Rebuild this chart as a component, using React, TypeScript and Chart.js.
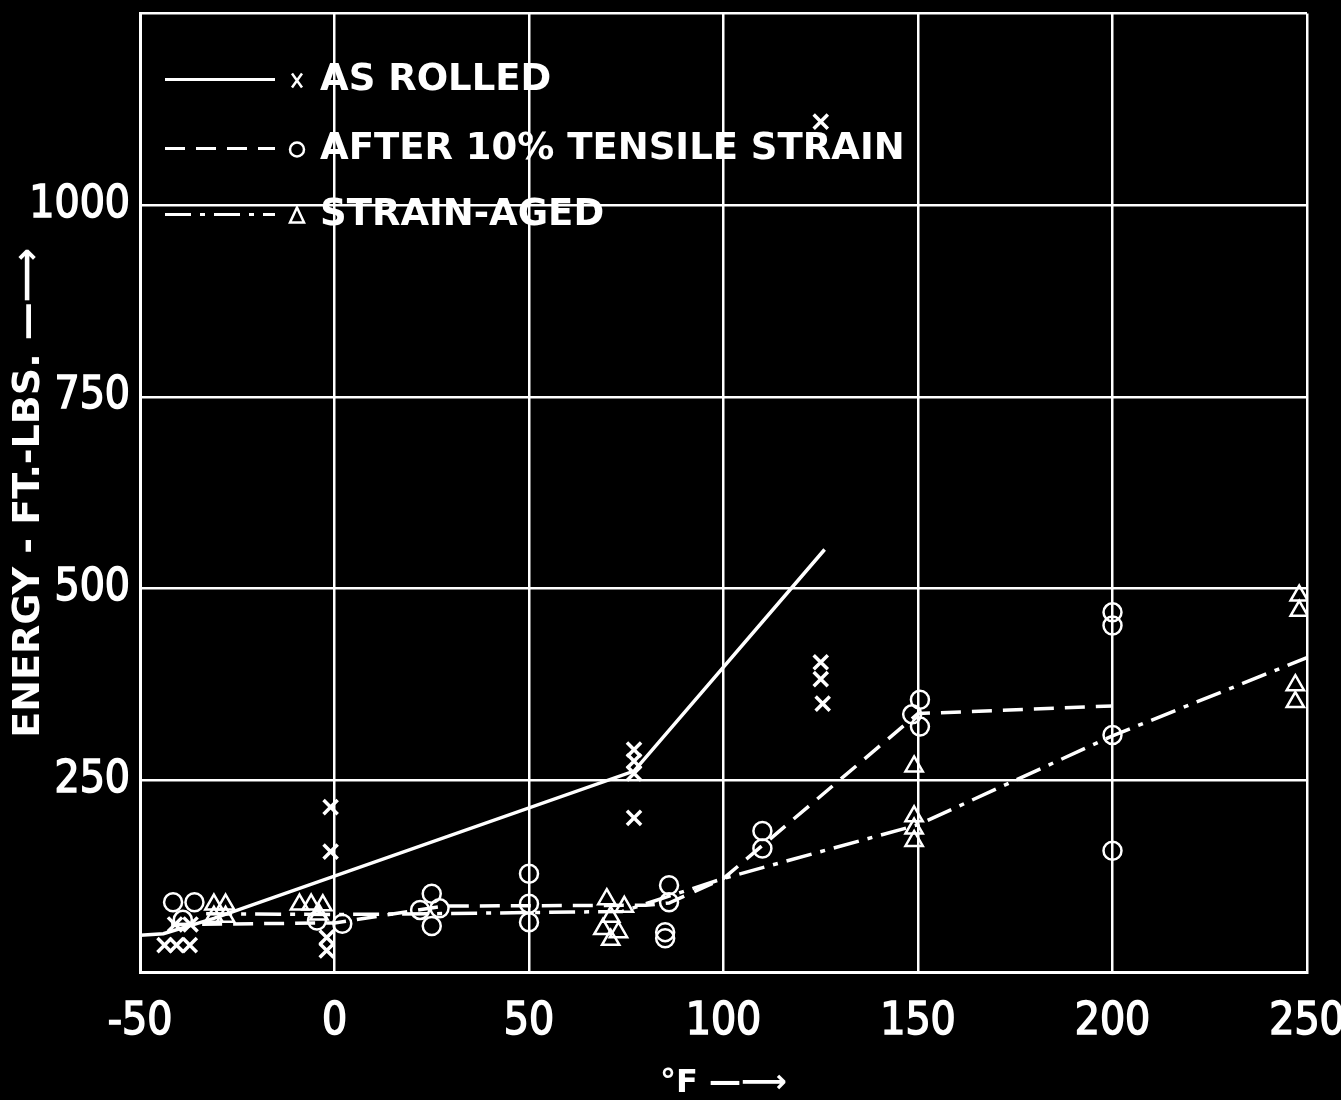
import React, { useEffect, useRef } from "react";
import { Chart, registerables } from "chart.js";

Chart.register(...registerables);

// ---- axis text ----
const X_TITLE = "°F —⟶";
const Y_TITLE = "ENERGY - FT.-LBS. —⟶";
const X_MIN = -50;
const X_MAX = 250;
const X_STEP = 50;
const Y_MIN = 0;
const Y_MAX = 1250;
const Y_STEP = 250;
const Y_TICK_LABELS = [250, 500, 750, 1000];

// ---- legend ----
const SERIES_NAMES = ["AS ROLLED", "AFTER 10% TENSILE STRAIN", "STRAIN-AGED"];

// ---- AS ROLLED (x, solid line) ----
const ROLLED_LINE_X = [-50, -44, -31, 77, 126];
const ROLLED_LINE_Y = [48, 50, 70, 262, 551];
const ROLLED_PTS_X = [-43.7, -40.6, -37.2, -41, -37, -1, -1, -2, -2, 77, 77, 77, 77, 125, 125, 125.5, 125];
const ROLLED_PTS_Y = [35, 35, 35, 62, 62, 215, 157, 45, 28, 290, 275, 259, 201, 404, 382, 350, 1109];

// ---- AFTER 10% TENSILE STRAIN (o, dashed line) ----
const TENSILE_LINE_X = [-42, 0, 28, 80, 86, 100, 150, 200];
const TENSILE_LINE_Y = [62, 64, 86, 87, 90, 122, 337, 347];
const TENSILE_PTS_X = [-41.5, -36, -39, -4.5, 2, 25, 22, 27, 25, 50, 50, 50, 86, 86, 85, 85, 110, 110, 150.5, 148.5, 150.5, 200, 200, 200, 200];
const TENSILE_PTS_Y = [91, 91, 68, 67, 63, 102, 81, 83, 60, 128, 89, 65, 113, 91, 52, 44, 184, 161, 355, 336, 320, 469, 452, 309, 158];

// ---- STRAIN-AGED (triangle, dash-dot line) ----
const AGED_LINE_X = [-33, 0, 25, 74, 100, 150, 200, 250];
const AGED_LINE_Y = [76, 75, 76, 79, 122, 192, 308, 410];
const AGED_PTS_X = [-31, -28, -31, -28, -9, -6, -3, -4, 70, 74.5, 71, 69, 73, 71, 149, 149, 149, 149, 248, 248, 247, 247];
const AGED_PTS_Y = [88, 88, 72, 72, 88, 88, 87, 75, 95, 85, 72, 56, 52, 42, 268, 203, 187, 171, 491, 471, 374, 352];

const DASH_SOLID: number[] = [];
const DASH_TENSILE = [20, 11];
const DASH_AGED = [26, 9, 5, 9];
const DASHES = [DASH_SOLID, DASH_TENSILE, DASH_AGED];

const pts = (xs: number[], ys: number[]) => xs.map((x, i) => ({ x, y: ys[i] }));

const WHITE = "#ffffff";
const TICK_FAMILY = "'Liberation Sans Narrow', 'DejaVu Sans Condensed', 'Liberation Sans', sans-serif";
const TEXT_FAMILY = "'DejaVu Sans', 'Liberation Sans', sans-serif";

const inlineLegend = {
  id: "inlineLegend",
  afterDatasetsDraw(chart: any) {
    const { ctx, chartArea } = chart;
    const rowsY = [66, 135, 201];
    ctx.save();
    SERIES_NAMES.forEach((name, i) => {
      const y = chartArea.top + rowsY[i];
      const x0 = chartArea.left + 25;
      const x1 = x0 + 110;
      ctx.strokeStyle = WHITE;
      ctx.lineWidth = 3;
      ctx.setLineDash(DASHES[i]);
      ctx.beginPath();
      ctx.moveTo(x0, y);
      ctx.lineTo(x1, y);
      ctx.stroke();
      ctx.setLineDash([]);
      // symbol
      const sx = x1 + 22;
      ctx.lineWidth = 2.5;
      ctx.beginPath();
      if (i === 0) {
        ctx.moveTo(sx - 5, y - 6);
        ctx.lineTo(sx + 5, y + 8);
        ctx.moveTo(sx + 5, y - 6);
        ctx.lineTo(sx - 5, y + 8);
      } else if (i === 1) {
        ctx.arc(sx, y + 1, 7, 0, Math.PI * 2);
      } else {
        ctx.moveTo(sx, y - 7);
        ctx.lineTo(sx + 7, y + 8);
        ctx.lineTo(sx - 7, y + 8);
        ctx.closePath();
      }
      ctx.stroke();
      ctx.fillStyle = WHITE;
      ctx.font = `bold 37px ${TEXT_FAMILY}`;
      ctx.textBaseline = "middle";
      ctx.textAlign = "left";
      ctx.fillText(name, x1 + 45, y + 1);
    });
    ctx.restore();
  },
};

export default function App() {
  const ref = useRef<HTMLCanvasElement>(null);

  useEffect(() => {
    const canvas = ref.current;
    if (!canvas) return;
    const markerCommon = {
      showLine: false,
      borderColor: WHITE,
      pointBorderColor: WHITE,
      pointBackgroundColor: "rgba(0,0,0,0)",
    };
    const lineCommon = {
      showLine: true,
      borderColor: WHITE,
      backgroundColor: "rgba(0,0,0,0)",
      borderWidth: 3.5,
      pointRadius: 0,
      tension: 0,
      fill: false,
    };
    const chart = new Chart(canvas, {
      type: "scatter",
      data: {
        datasets: [
          {
            ...markerCommon,
            label: SERIES_NAMES[0] + " points",
            data: pts(ROLLED_PTS_X, ROLLED_PTS_Y),
            pointStyle: "crossRot",
            pointRadius: 10,
            pointBorderWidth: 3.5,
          },
          {
            ...markerCommon,
            label: SERIES_NAMES[1] + " points",
            data: pts(TENSILE_PTS_X, TENSILE_PTS_Y),
            pointStyle: "circle",
            pointRadius: 9,
            pointBorderWidth: 2.5,
          },
          {
            ...markerCommon,
            label: SERIES_NAMES[2] + " points",
            data: pts(AGED_PTS_X, AGED_PTS_Y),
            pointStyle: "triangle",
            pointRadius: 10,
            pointBorderWidth: 2.5,
          },
          {
            ...lineCommon,
            label: SERIES_NAMES[0],
            data: pts(ROLLED_LINE_X, ROLLED_LINE_Y),
            borderDash: DASH_SOLID,
          },
          {
            ...lineCommon,
            label: SERIES_NAMES[1],
            data: pts(TENSILE_LINE_X, TENSILE_LINE_Y),
            borderDash: DASH_TENSILE,
          },
          {
            ...lineCommon,
            label: SERIES_NAMES[2],
            data: pts(AGED_LINE_X, AGED_LINE_Y),
            borderDash: DASH_AGED,
          },
        ],
      },
      options: {
        responsive: false,
        animation: false,
        devicePixelRatio: 1,
        layout: { padding: { left: 10, right: 34, top: 10, bottom: 0 } },
        plugins: {
          legend: { display: false },
          tooltip: { enabled: false },
        },
        scales: {
          x: {
            type: "linear",
            min: X_MIN,
            max: X_MAX,
            afterFit: (scale: any) => {
              scale.height = 128;
              scale.paddingLeft = 0;
              scale.paddingRight = 0;
            },
            ticks: {
              stepSize: X_STEP,
              color: WHITE,
              textStrokeColor: WHITE,
              textStrokeWidth: 1.5,
              padding: 24,
              font: { family: TICK_FAMILY, size: 44, weight: "normal" },
              callback: (v: any) => String(v),
            },
            grid: { color: WHITE, lineWidth: 2.5, drawTicks: false },
            border: { color: WHITE, width: 3 },
            title: {
              display: true,
              text: X_TITLE,
              color: WHITE,
              padding: { top: 0, bottom: 0 },
              font: { family: TEXT_FAMILY, size: 32, weight: "bold", lineHeight: 1 },
            },
          },
          y: {
            type: "linear",
            min: Y_MIN,
            max: Y_MAX,
            afterFit: (scale: any) => {
              scale.width = 130;
              scale.paddingTop = 0;
              scale.paddingBottom = 0;
            },
            ticks: {
              stepSize: Y_STEP,
              color: WHITE,
              textStrokeColor: WHITE,
              textStrokeWidth: 1.5,
              padding: 10,
              font: { family: TICK_FAMILY, size: 44, weight: "normal" },
              callback: (v: any) => (Y_TICK_LABELS.includes(Number(v)) ? String(v) : ""),
            },
            grid: { color: WHITE, lineWidth: 2.5, drawTicks: false },
            border: { color: WHITE, width: 3 },
            title: {
              display: true,
              text: Y_TITLE,
              color: WHITE,
              padding: { top: 0, bottom: 0 },
              font: { family: TEXT_FAMILY, size: 38, weight: "bold", lineHeight: 1 },
            },
          },
        },
      },
      plugins: [inlineLegend],
    } as any);
    return () => chart.destroy();
  }, []);

  return (
    <div style={{ position: "absolute", left: 0, top: 0, width: 1341, height: 1100, background: "#000" }}>
      <canvas ref={ref} width={1341} height={1100} style={{ display: "block", width: 1341, height: 1100, background: "#000" }} />
    </div>
  );
}
